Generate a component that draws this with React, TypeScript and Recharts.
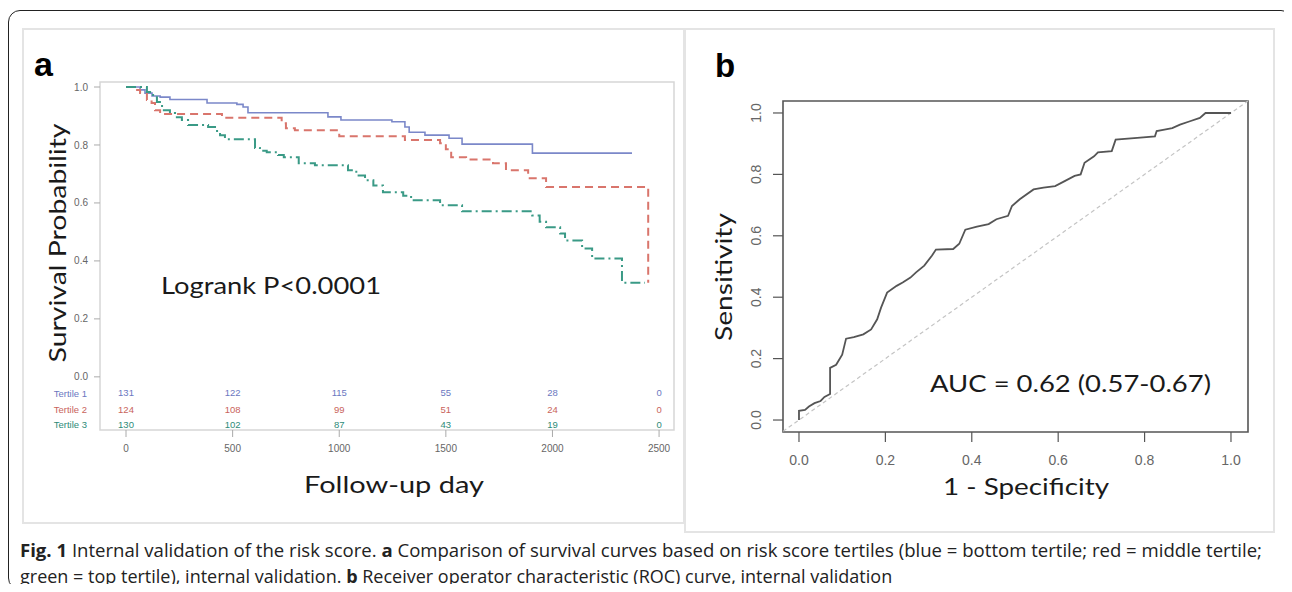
import { ComposedChart, Line, Scatter, XAxis, YAxis, ReferenceArea, ReferenceLine, Customized } from "recharts";

// --- panel a: Kaplan-Meier by tertile ---
const T1_DAY = [0, 66, 89, 122, 160, 206, 380, 520, 549, 572, 947, 1008, 1247, 1308, 1328, 1402, 1515, 1576, 1906, 2373];
const T1_SURV = [1, 0.99, 0.979, 0.969, 0.965, 0.957, 0.945, 0.94, 0.931, 0.911, 0.897, 0.886, 0.88, 0.862, 0.844, 0.834, 0.823, 0.803, 0.772, 0.772];

const T2_DAY = [0, 33, 66, 98, 120, 136, 160, 450, 730, 750, 792, 1000, 1308, 1473, 1500, 1525, 1595, 1721, 1782, 1886, 1970, 2449];
const T2_SURV = [1, 0.99, 0.979, 0.955, 0.945, 0.92, 0.907, 0.894, 0.875, 0.858, 0.851, 0.83, 0.817, 0.806, 0.785, 0.758, 0.75, 0.737, 0.713, 0.685, 0.655, 0.325];

const T3_DAY = [0, 98, 127, 145, 169, 206, 230, 262, 291, 385, 427, 441, 464, 605, 628, 660, 713, 740, 810, 886, 1041, 1080, 1121, 1160, 1205, 1300, 1337, 1473, 1576, 1905, 1940, 1970, 2036, 2059, 2139, 2186, 2326, 2434];
const T3_SURV = [1, 0.983, 0.965, 0.948, 0.92, 0.91, 0.896, 0.886, 0.869, 0.862, 0.844, 0.834, 0.82, 0.79, 0.78, 0.775, 0.765, 0.758, 0.737, 0.73, 0.713, 0.695, 0.678, 0.66, 0.637, 0.625, 0.609, 0.592, 0.571, 0.557, 0.535, 0.516, 0.495, 0.47, 0.443, 0.408, 0.325, 0.325];

const RISK_DAYS = [0, 500, 1000, 1500, 2000, 2500];
const RISK_T1 = [131, 122, 115, 55, 28, 0];
const RISK_T2 = [124, 108, 99, 51, 24, 0];
const RISK_T3 = [130, 102, 87, 43, 19, 0];
const TERTILES = ["Tertile 1", "Tertile 2", "Tertile 3"];
const SURV_TICKS = [0, 0.2, 0.4, 0.6, 0.8, 1.0];

// --- panel b: ROC ---
const ROC_FPR = [0, 0, 0.014, 0.023, 0.036, 0.05, 0.059, 0.072, 0.072, 0.086, 0.1, 0.109, 0.127, 0.149, 0.167, 0.181, 0.19, 0.204, 0.226, 0.24, 0.258, 0.271, 0.29, 0.308, 0.317, 0.357, 0.371, 0.385, 0.412, 0.439, 0.457, 0.484, 0.493, 0.511, 0.543, 0.566, 0.593, 0.615, 0.638, 0.652, 0.661, 0.683, 0.692, 0.724, 0.733, 0.783, 0.824, 0.828, 0.846, 0.864, 0.882, 0.905, 0.928, 0.941, 1];
const ROC_TPR = [0, 0.03, 0.033, 0.044, 0.055, 0.062, 0.075, 0.085, 0.17, 0.18, 0.213, 0.265, 0.27, 0.279, 0.295, 0.328, 0.366, 0.415, 0.437, 0.448, 0.464, 0.481, 0.503, 0.536, 0.555, 0.557, 0.574, 0.62, 0.63, 0.638, 0.654, 0.665, 0.697, 0.719, 0.751, 0.757, 0.762, 0.778, 0.795, 0.8, 0.838, 0.859, 0.872, 0.876, 0.913, 0.919, 0.924, 0.941, 0.946, 0.951, 0.962, 0.973, 0.984, 1, 1];
const ROC_TICKS = [0, 0.2, 0.4, 0.6, 0.8, 1.0];

const BLUE = "#7b88c9";
const RED = "#d9756c";
const GREEN = "#3a9a86";
const TXT_BLUE = "#6b78bf";
const TXT_RED = "#c9645c";
const TXT_GREEN = "#2e8b78";

const SANS = "Lato, 'Open Sans', sans-serif";
const ARIAL = "'Liberation Sans', Arial, sans-serif";

// chart boxes (page px)
const AX = 22, AY = 28;
const BX = 686, BY = 30;

const A_XDOM = [-122, 2570];
const A_YDOM = [-0.1834, 1.0173];
const ROW_Y = [-0.055, -0.111, -0.163];
const B_XDOM = [-0.037, 1.0394];
const B_YDOM = [-0.039, 1.039];

const toPts = (xs: number[], ys: number[]) => xs.map((x, i) => ({ x, y: ys[i] }));

function PanelAText() {
  const cols = [TXT_BLUE, TXT_RED, TXT_GREEN];
  const rowPx = [393, 409, 424];
  return (
    <g fontFamily={SANS} fill="#1a1a1a">
      <text x={34 - AX} y={76 - AY} fontFamily={ARIAL} fontWeight="bold" fontSize={34} fill="#000">a</text>
      <text transform={`translate(${66 - AX},${243 - AY}) rotate(-90)`} textAnchor="middle" fontSize={24}
        textLength={239} lengthAdjust="spacingAndGlyphs">Survival Probability</text>
      <text x={394 - AX} y={493 - AY} textAnchor="middle" fontSize={24} textLength={180} lengthAdjust="spacingAndGlyphs">Follow-up day</text>
      <text x={161 - AX} y={294 - AY} fontSize={24} textLength={220} lengthAdjust="spacingAndGlyphs">Logrank P&lt;0.0001</text>
      {TERTILES.map((t, i) => (
        <text key={t} x={87 - AX} y={rowPx[i] - AY} textAnchor="end" dominantBaseline="central"
          fontFamily={ARIAL} fontSize={9.5} fill={cols[i]}>{t}</text>
      ))}
    </g>
  );
}

function PanelBText() {
  return (
    <g fontFamily={SANS} fill="#1a1a1a">
      <text x={715 - BX} y={77 - BY} fontFamily={ARIAL} fontWeight="bold" fontSize={33} fill="#000">b</text>
      <text transform={`translate(${732 - BX},${277 - BY}) rotate(-90)`} textAnchor="middle" fontSize={24}
        textLength={128} lengthAdjust="spacingAndGlyphs">Sensitivity</text>
      <text x={1026 - BX} y={495 - BY} textAnchor="middle" fontSize={24} textLength={166} lengthAdjust="spacingAndGlyphs">1 - Specificity</text>
      <text x={930 - BX} y={392 - BY} fontSize={24} textLength={281} lengthAdjust="spacingAndGlyphs">AUC = 0.62 (0.57-0.67)</text>
    </g>
  );
}

const RotTick = (p: any) => (
  <text x={p.x} y={p.y} transform={`rotate(-90, ${p.x}, ${p.y})`} textAnchor="middle"
    fontFamily={ARIAL} fontSize={14} fill="#666">{Number(p.payload.value).toFixed(1)}</text>
);

const riskShape = (color: string) => (p: any) => (
  <text x={p.cx} y={p.cy} textAnchor="middle" dominantBaseline="central" fontFamily={ARIAL} fontSize={9.5} fill={color}>
    {p.payload.n}
  </text>
);

export default function App() {
  const t1 = toPts(T1_DAY, T1_SURV);
  const t2 = toPts(T2_DAY, T2_SURV);
  const t3 = toPts(T3_DAY, T3_SURV);
  const risks = [RISK_T1, RISK_T2, RISK_T3].map((arr, r) => RISK_DAYS.map((d, i) => ({ x: d, y: ROW_Y[r], n: arr[i] })));
  const roc = toPts(ROC_FPR, ROC_TPR);
  const diagLo = Math.max(B_XDOM[0], B_YDOM[0]);
  const diagHi = Math.min(B_XDOM[1], B_YDOM[1]);

  return (
    <div style={{ position: "relative", width: 1292, height: 592, margin: -8, background: "#fff", overflow: "hidden" }}>
      <div style={{ position: "absolute", left: 8, top: 10, width: 1283, height: 578, border: "1.5px solid #222", borderRadius: 12 }} />
      <div style={{ position: "absolute", left: 22, top: 28, width: 659, height: 492, border: "2px solid #e4e4e4" }} />
      <div style={{ position: "absolute", left: 684, top: 28, width: 587, height: 501, border: "2px solid #e4e4e4" }} />

      <div style={{ position: "absolute", left: AX, top: AY }}>
        <ComposedChart width={661} height={494} margin={{ top: 54, right: 9, bottom: 62, left: 38 }}>
          <XAxis dataKey="x" type="number" domain={A_XDOM} allowDataOverflow ticks={RISK_DAYS} height={30}
            axisLine={false} tickSize={7} tickMargin={8} tickLine={{ stroke: "#aaa" }}
            tick={{ fontSize: 10, fill: "#666", fontFamily: ARIAL }} />
          <YAxis type="number" domain={A_YDOM} allowDataOverflow ticks={SURV_TICKS} width={40}
            axisLine={false} tickSize={6} tickMargin={6} tickLine={{ stroke: "#aaa" }}
            tickFormatter={(v: number) => v.toFixed(1)} tick={{ fontSize: 10, fill: "#666", fontFamily: ARIAL }} />
          <ReferenceArea x1={A_XDOM[0]} x2={A_XDOM[1]} y1={A_YDOM[0]} y2={A_YDOM[1]} fill="none" fillOpacity={0}
            stroke="#d6d6d6" strokeWidth={1.5} ifOverflow="visible" />
          <Line data={t1} dataKey="y" type="stepAfter" stroke={BLUE} strokeWidth={1.6} dot={false} activeDot={false} isAnimationActive={false} />
          <Line data={t2} dataKey="y" type="stepAfter" stroke={RED} strokeWidth={2} strokeDasharray="8 5" dot={false} activeDot={false} isAnimationActive={false} />
          <Line data={t3} dataKey="y" type="stepAfter" stroke={GREEN} strokeWidth={2} strokeDasharray="10 4 2 4" dot={false} activeDot={false} isAnimationActive={false} />
          <Scatter data={risks[0]} dataKey="y" shape={riskShape(TXT_BLUE)} isAnimationActive={false} />
          <Scatter data={risks[1]} dataKey="y" shape={riskShape(TXT_RED)} isAnimationActive={false} />
          <Scatter data={risks[2]} dataKey="y" shape={riskShape(TXT_GREEN)} isAnimationActive={false} />
          <Customized component={PanelAText} />
        </ComposedChart>
      </div>

      <div style={{ position: "absolute", left: BX, top: BY }}>
        <ComposedChart width={586} height={500} margin={{ top: 71, right: 24, bottom: 58, left: 57 }}>
          <XAxis dataKey="x" type="number" domain={B_XDOM} allowDataOverflow ticks={ROC_TICKS} height={40}
            axisLine={false} tickSize={10} tickMargin={13} tickLine={{ stroke: "#555", strokeWidth: 1.2 }}
            tickFormatter={(v: number) => v.toFixed(1)} tick={{ fontSize: 14, fill: "#666", fontFamily: ARIAL }} />
          <YAxis type="number" domain={B_YDOM} allowDataOverflow ticks={ROC_TICKS} width={40}
            axisLine={false} tickSize={10} tickMargin={12} tickLine={{ stroke: "#555", strokeWidth: 1.2 }}
            tick={RotTick} />
          <ReferenceArea x1={B_XDOM[0]} x2={B_XDOM[1]} y1={B_YDOM[0]} y2={B_YDOM[1]} fill="none" fillOpacity={0}
            stroke="#555" strokeWidth={1.6} ifOverflow="visible" />
          <ReferenceLine segment={[{ x: diagLo, y: diagLo }, { x: diagHi, y: diagHi }]} stroke="#c4c4c4"
            strokeWidth={1.2} strokeDasharray="4 3" ifOverflow="visible" />
          <Line data={roc} dataKey="y" type="linear" stroke="#555" strokeWidth={1.8} dot={false} activeDot={false} isAnimationActive={false} />
          <Customized component={PanelBText} />
        </ComposedChart>
      </div>

      <svg style={{ position: "absolute", left: 0, top: 530 }} width={1292} height={62}>
        <g fontFamily="'Open Sans', sans-serif" fontSize={18} fill="#222">
          <text x={20} y={27} textLength={1242} lengthAdjust="spacingAndGlyphs">
            <tspan fontWeight="bold">Fig. 1</tspan>{" Internal validation of the risk score. "}
            <tspan fontWeight="bold">a</tspan>{" Comparison of survival curves based on risk score tertiles (blue = bottom tertile; red = middle tertile;"}
          </text>
          <text x={20} y={53}>
            {"green = top tertile), internal validation. "}<tspan fontWeight="bold">b</tspan>{" Receiver operator characteristic (ROC) curve, internal validation"}
          </text>
        </g>
      </svg>
    </div>
  );
}
